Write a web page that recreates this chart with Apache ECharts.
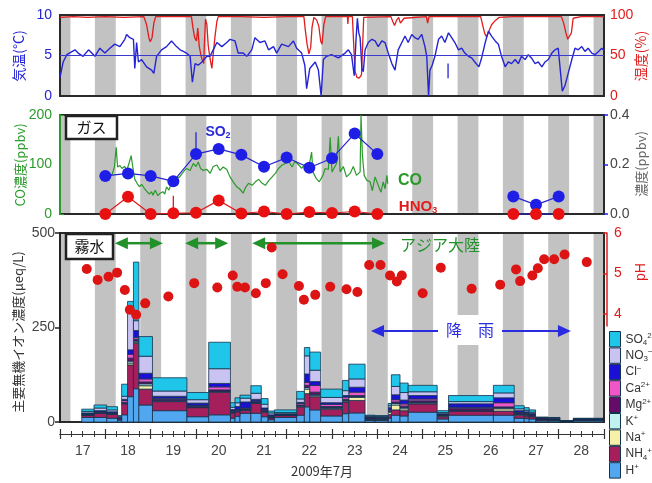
<!DOCTYPE html>
<html><head><meta charset="utf-8">
<script src="https://cdn.jsdelivr.net/npm/echarts@6/dist/echarts.min.js"></script>
<style>html,body{margin:0;padding:0;background:#fff}#c{width:652px;height:483px}</style>
</head><body><div id="c"></div>
<script>
const NUMF = 'Liberation Sans, "Noto Sans CJK JP", sans-serif';
const JPF = '"Noto Sans CJK JP", sans-serif';

const dayLabels = ['17','18','19','20','21','22','23','24','25','26','27','28'];
const nightStart = [16.77,17.77,18.77,19.77,20.77,21.77,22.77,23.77,24.77,25.77,26.77,27.77,28.77];
const nightEnd   = [17.23,18.23,19.23,20.23,21.23,22.23,23.23,24.23,25.23,26.23,27.23,28.23,29.23];

const tempData = [[17.00,2.3],[17.07,4.2],[17.15,5.1],[17.33,5.7],[17.40,5.3],[17.51,4.9],[17.63,5.7],[17.77,4.9],[17.88,5.9],[17.99,5.3],[18.10,5.9],[18.21,6.4],[18.32,6.1],[18.43,7.0],[18.47,7.6],[18.54,7.2],[18.62,7.0],[18.65,3.4],[18.69,6.6],[18.73,4.2],[18.80,4.5],[18.91,3.6],[19.02,3.2],[19.07,2.8],[19.13,4.9],[19.24,5.7],[19.35,6.1],[19.46,6.8],[19.57,6.1],[19.65,5.7],[19.72,5.5],[19.79,5.3],[19.87,4.9],[19.92,1.7],[19.98,4.0],[20.05,3.8],[20.13,4.2],[20.24,4.9],[20.31,4.9],[20.38,5.7],[20.46,6.6],[20.57,6.1],[20.68,6.6],[20.75,7.0],[20.86,6.8],[20.93,5.3],[21.04,5.3],[21.12,4.9],[21.23,5.7],[21.30,7.2],[21.41,6.6],[21.52,6.8],[21.60,5.7],[21.71,6.1],[21.78,5.3],[21.89,6.4],[22.04,6.1],[22.15,6.8],[22.22,5.9],[22.33,5.3],[22.40,3.8],[22.44,0.9],[22.51,3.4],[22.63,4.2],[22.70,3.2],[22.76,0.0],[22.81,4.5],[22.88,4.9],[22.99,5.1],[23.14,4.7],[23.29,5.3],[23.36,5.7],[23.43,5.1],[23.49,2.5],[23.53,7.0],[23.56,9.6],[23.59,7.8],[23.62,7.2],[23.66,3.4],[23.69,3.0],[23.73,5.7],[23.80,6.6],[23.88,7.0],[23.95,6.8],[24.02,6.1],[24.10,6.8],[24.17,6.6],[24.24,5.3],[24.32,4.0],[24.39,3.2],[24.46,5.7],[24.54,6.6],[24.61,7.4],[24.68,6.6],[24.76,7.6],[24.83,7.2],[24.90,7.0],[24.98,7.6],[25.05,6.1],[25.09,4.9],[25.13,0.0],[25.16,3.2],[25.21,3.8],[25.27,4.9],[25.35,7.0],[25.42,7.4],[25.49,6.6],[25.57,7.8],[25.64,7.2],[25.71,6.6],[25.79,5.7],[25.86,5.9],[25.93,5.3],[26.01,4.9],[26.08,4.7],[26.15,4.2],[26.24,3.6],[26.30,4.7],[26.38,6.6],[26.45,8.0],[26.52,7.4],[26.60,6.8],[26.67,6.4],[26.74,4.9],[26.82,3.6],[26.89,4.2],[26.96,4.0],[27.04,4.5],[27.11,4.0],[27.18,4.9],[27.26,4.5],[27.33,5.1],[27.40,4.7],[27.48,4.0],[27.55,4.2],[27.63,3.6],[27.70,4.2],[27.77,4.5],[27.85,5.3],[27.92,5.7],[27.99,5.9],[28.03,5.9],[28.08,0.6],[28.14,1.3],[28.21,2.8],[28.29,4.5],[28.36,5.9],[28.43,5.7],[28.51,6.1],[28.58,5.5],[28.65,5.9],[28.73,5.3],[28.80,5.1],[28.88,5.5],[28.95,5.9],[29.00,5.6]];
const tempSpikes = [[25.56,2.2,4.0]];

const humData = [[17.00,97],[17.30,98],[17.60,97],[18.00,98],[18.40,97],[18.85,98],[18.91,88],[18.96,72],[18.99,67],[19.03,72],[19.07,90],[19.11,98],[19.50,98],[19.90,98],[19.93,85],[19.97,72],[20.01,68],[20.04,84],[20.07,62],[20.11,50],[20.14,44],[20.17,40],[20.19,72],[20.21,95],[20.24,88],[20.27,62],[20.31,46],[20.35,34],[20.38,52],[20.42,74],[20.46,92],[20.49,98],[21.00,98],[21.50,97],[22.00,98],[22.38,98],[22.41,82],[22.45,64],[22.49,52],[22.53,60],[22.56,85],[22.60,97],[22.66,94],[22.71,86],[22.75,68],[22.78,64],[22.82,88],[22.86,98],[23.20,98],[23.34,98],[23.35,89],[23.36,98],[23.45,98],[23.48,62],[23.51,30],[23.55,23],[23.60,22],[23.65,26],[23.67,55],[23.70,97],[24.30,98],[24.34,92],[24.38,87],[24.42,93],[24.47,97],[24.51,90],[24.55,88],[24.59,96],[24.63,98],[25.08,98],[25.11,90],[25.14,98],[26.28,98],[26.33,86],[26.37,77],[26.41,73],[26.46,80],[26.52,88],[26.60,93],[26.68,97],[27.00,98],[27.50,98],[28.06,98],[28.11,90],[28.16,78],[28.20,70],[28.24,68],[28.28,78],[28.32,96],[28.50,98],[29.00,98]];

const coData = [[18.10,78],[18.15,80],[18.20,95],[18.24,135],[18.27,95],[18.32,98],[18.37,92],[18.42,96],[18.48,90],[18.53,105],[18.57,118],[18.61,92],[18.65,70],[18.70,62],[18.75,55],[18.80,60],[18.86,52],[18.92,45],[18.97,40],[19.02,45],[19.05,38],[19.10,48],[19.16,37],[19.21,42],[19.27,45],[19.31,40],[19.35,55],[19.40,48],[19.45,60],[19.50,65],[19.57,72],[19.64,75],[19.72,85],[19.79,92],[19.87,88],[19.94,102],[20.00,96],[20.05,105],[20.10,92],[20.16,88],[20.24,90],[20.31,82],[20.38,96],[20.46,99],[20.53,88],[20.60,95],[20.68,90],[20.75,75],[20.82,65],[20.90,55],[20.97,50],[21.04,42],[21.10,55],[21.16,62],[21.24,58],[21.31,65],[21.38,70],[21.46,62],[21.53,58],[21.60,67],[21.68,75],[21.75,82],[21.82,92],[21.90,99],[21.97,102],[22.05,105],[22.12,95],[22.18,106],[22.26,100],[22.33,92],[22.40,100],[22.50,100],[22.55,125],[22.58,85],[22.65,72],[22.72,65],[22.80,78],[22.85,92],[22.92,90],[22.96,155],[23.00,85],[23.10,102],[23.14,157],[23.18,85],[23.25,96],[23.32,75],[23.40,82],[23.47,96],[23.54,78],[23.62,85],[23.64,200],[23.67,120],[23.71,78],[23.77,68],[23.84,65],[23.89,47],[23.95,75],[24.02,58],[24.08,44],[24.13,65],[24.17,51],[24.21,78],[24.23,61]];

const so2DataA = [[18.0,0.154],[18.5,0.164],[19.0,0.154],[19.5,0.132],[20.0,0.242],[20.5,0.263],[21.0,0.239],[21.5,0.191],[22.0,0.228],[22.5,0.187],[23.0,0.225],[23.5,0.325],[24.0,0.242]];
const so2DataB = [[27.0,0.071],[27.5,0.037],[28.0,0.071]];
const so2Spikes = [[20.0,0.242,0.33]];
const hno3DataA = [[18.0,0],[18.5,0.07],[19.0,0],[19.5,0.003],[20.0,0.005],[20.5,0.055],[21.0,0.002],[21.5,0.01],[22.0,0],[22.5,0.008],[23.0,0.004],[23.5,0.01],[24.0,0]];
const hno3DataB = [[27.0,0],[27.5,0],[28.0,0]];
const hno3Spikes = [[19.5,0.003,0.074]];

const fogStart = [17.48,17.75,18.03,18.27,18.36,18.49,18.62,18.74,19.04,19.80,20.28,20.76,20.86,20.97,21.21,21.44,21.59,21.73,22.22,22.39,22.51,22.75,23.23,23.37,23.73,23.95,24.24,24.31,24.50,24.68,25.32,25.57,26.56,27.02,27.24,27.35,27.50,27.77,28.03,28.32];
const fogEnd   = [17.75,18.03,18.27,18.36,18.49,18.62,18.74,19.04,19.80,20.28,20.76,20.86,20.97,21.21,21.44,21.59,21.73,22.22,22.39,22.51,22.75,23.23,23.37,23.73,23.95,24.24,24.31,24.50,24.68,25.32,25.57,26.56,27.02,27.24,27.35,27.49,27.77,28.03,28.32,28.98];
const ionH   = [12,12,10,5,19,67,88,45,30,14,19,10,15,23,23,14,6,12,18,40,32,16,22,24,4,4,10,18,16,26,8,18,18,10,9,8,3,3,1,3];
const ionNH4 = [6,11,10,4,29,84,120,42,24,24,60,14,12,8,26,12,5,5,22,35,35,18,31,33,3,3,10,14,14,22,6,11,11,8,7,6,3,2,1,2];
const ionNa  = [0.5,0.5,0.5,0,1,5,3,9,1,0.5,1,1,1,1,1,1,0.5,0.5,2,12,3,2,2,8,0.5,0.5,6,13,5,2,2,1,6,2,2,1,0.5,0.5,0,0.5];
const ionK   = [0.5,0.5,0.5,0,1,5,3,5,1,0.5,1,1,1,1,1,1,0.5,0.5,1,4,3,2,2,2,0.5,0.5,2,4,3,2,1,1,2,1,1,1,0.5,0.5,0,0.5];
const ionMg  = [2,2,2,1,2,8,5,5,4,3,4,2,2,2,3,3,3,1,2,6,6,3,3,3,3,2,2,4,4,4,2,5,3,3,3,3,2,2,0.5,1];
const ionCa  = [1,1,1,1,5,10,5,8,3,2,8,2,2,2,2,2,1,1,4,8,18,6,6,9,1,1,3,6,6,5,1,3,11,2,2,1,0.5,0.5,0,0.5];
const ionCl  = [2,3,3,1,3,12,18,15,5,6,9,3,8,16,4,4,3,2,3,22,10,4,4,13,2,2,5,13,10,9,2,9,13,4,3,3,1.5,1.5,0.5,1];
const ionNO3 = [4,7,5,2,8,98,26,45,14,9,39,6,10,10,16,10,5,3,9,48,30,14,13,22,2,2,5,22,20,10,3,6,13,5,4,3,1,1,0.25,0.5];
const ionSO4 = [6,8,8.5,3,32,30,155,52,35,19,70,12,13,8,20,15,5,7,20,22,48,22,27,39,2,2,6,31,25,17,5,16,20,8,7,6,1,1,0.25,1];
const ionNames = ['H+','NH4+','Na+','K+','Mg2+','Ca2+','Cl-','NO3-','SO42-'];
const ionColors = ['#52a8f0','#a61f5d','#f6f0a8','#c0f2f0','#650b68','#f056c8','#1a10d6','#c9c3f2','#20c6ea'];

const phData = [[17.59,5.11],[17.83,4.84],[18.07,4.92],[18.26,5.02],[18.43,4.59],[18.54,4.10],[18.68,3.98],[18.88,4.26],[19.39,4.43],[19.96,4.76],[20.47,4.65],[20.81,4.95],[20.91,4.67],[21.08,4.65],[21.32,4.51],[21.54,4.76],[21.67,5.64],[21.91,4.98],[22.27,4.69],[22.38,4.35],[22.63,4.47],[22.96,4.67],[23.32,4.61],[23.56,4.54],[23.82,5.21],[24.07,5.21],[24.28,4.95],[24.43,4.80],[24.54,4.95],[25.00,4.51],[25.40,5.14],[26.08,4.62],[26.71,4.72],[27.06,5.10],[27.15,4.81],[27.42,4.95],[27.54,5.13],[27.68,5.35],[27.90,5.35],[28.13,5.47],[28.62,5.28]];

const asiaArrows = [[18.21,19.27,473],[19.76,20.71,473],[21.24,24.17,473]];
const rainArrows = [[23.86,28.27,241]];

// ---------- render helpers ----------
const nights = nightStart.map((s,i)=>[s,nightEnd[i],0]);
function stripeRender(params, api){
  const cs = params.coordSys;
  let x1 = api.coord([api.value(0),0])[0];
  let x2 = api.coord([api.value(1),0])[0];
  x1 = Math.max(x1, cs.x+1); x2 = Math.min(x2, cs.x+cs.width-1);
  if (x2 <= x1) return null;
  return {type:'rect', shape:{x:x1,y:cs.y+1,width:x2-x1,height:cs.height-2}, style:{fill:'#c2c2c2'}};
}
function spikeRender(color){
  return function(params, api){
    const a = api.coord([api.value(0), api.value(1)]);
    const b = api.coord([api.value(0), api.value(2)]);
    return {type:'line', shape:{x1:a[0],y1:a[1],x2:b[0],y2:b[1]}, style:{stroke:color, lineWidth:1.3}};
  };
}
function ionRender(params, api){
  const p1 = api.coord([api.value(0), api.value(3)]);
  const p2 = api.coord([api.value(1), api.value(2)]);
  return {type:'rect', shape:{x:p1[0],y:p1[1],width:p2[0]-p1[0],height:p2[1]-p1[1]},
    style:{fill:api.visual('color'), stroke:'#15324c', lineWidth:0.8}};
}
function arrowRender(color, lw){
  return function(params, api){
    const a = api.coord([api.value(0), api.value(2)]);
    const b = api.coord([api.value(1), api.value(2)]);
    const L = 13, W = 6, y = a[1];
    return {type:'group', children:[
      {type:'line', shape:{x1:a[0]+L-2,y1:y,x2:b[0]-L+2,y2:y}, style:{stroke:color,lineWidth:lw}},
      {type:'polygon', shape:{points:[[a[0],y],[a[0]+L,y-W],[a[0]+L,y+W]]}, style:{fill:color}},
      {type:'polygon', shape:{points:[[b[0],y],[b[0]-L,y-W],[b[0]-L,y+W]]}, style:{fill:color}}
    ]};
  };
}

const ionValues = [ionH,ionNH4,ionNa,ionK,ionMg,ionCa,ionCl,ionNO3,ionSO4];
const cum = fogStart.map(()=>0);
const ionSeries = ionValues.map((vals,k)=>{
  const data = fogStart.map((s,i)=>{ const b = cum[i]; cum[i] += vals[i]; return [s, fogEnd[i], b, cum[i]]; });
  return {type:'custom', name:ionNames[k], xAxisIndex:2, yAxisIndex:4, z:3,
    itemStyle:{color:ionColors[k]}, encode:{x:[0,1], y:[2,3]}, data, renderItem:ionRender};
});

const legendLabels = {
  'SO42-':'{n|SO}{b|4}{t|2−}', 'NO3-':'{n|NO}{b|3}{t|−}', 'Cl-':'{n|Cl}{t|−}', 'Ca2+':'{n|Ca}{t|2+}',
  'Mg2+':'{n|Mg}{t|2+}', 'K+':'{n|K}{t|+}', 'Na+':'{n|Na}{t|+}', 'NH4+':'{n|NH}{b|4}{t|+}', 'H+':'{n|H}{t|+}'
};

const BLUE = '#2424d4', RED = '#e01c1c', GREEN = '#2a9a2a', GRAY = '#444';
const hidX = (g)=>({gridIndex:g, type:'value', min:17, max:29, show:false});
const baseGrid = {left:60, right:48, show:true, borderColor:'#2a2a2a', borderWidth:2, backgroundColor:'#fff'};

const option = {
  animation:false,
  textStyle:{fontFamily:NUMF},
  grid:[
    Object.assign({top:15, height:81}, baseGrid),
    Object.assign({top:115, height:99}, baseGrid),
    Object.assign({top:233, height:189}, baseGrid),
    {left:60, right:48, top:233, height:93, show:false}
  ],
  xAxis:[
    hidX(0), hidX(1),
    {gridIndex:2, type:'value', min:17, max:29, interval:1, position:'bottom', offset:12,
      axisLine:{show:true,onZero:false,lineStyle:{color:'#333',width:1.2}},
      axisTick:{show:true,inside:false,length:5,lineStyle:{color:'#333',width:1.2}},
      minorTick:{show:true,splitNumber:4,length:3,lineStyle:{color:'#333',width:1}},
      axisLabel:{show:false}, splitLine:{show:false}},
    {gridIndex:2, type:'value', min:17, max:29, interval:1, position:'bottom', offset:12,
      axisLine:{show:true,onZero:false,lineStyle:{color:'#333',width:1.2}},
      axisTick:{show:true,inside:true,length:5,lineStyle:{color:'#333',width:1.2}},
      minorTick:{show:true,splitNumber:4,length:3,lineStyle:{color:'#333',width:1}},
      axisLabel:{show:false}, splitLine:{show:false}},
    {gridIndex:2, type:'value', min:17, max:29, interval:0.5, position:'bottom', offset:12,
      axisLine:{show:false,onZero:false}, axisTick:{show:false}, splitLine:{show:false},
      axisLabel:{fontSize:14, color:GRAY, margin:10, fontFamily:NUMF,
        formatter:(v)=>{ const f = v - Math.floor(v); return (Math.abs(f-0.5)<0.01) ? (dayLabels[Math.floor(v)-17]||'') : ''; }}},
    hidX(3)
  ],
  yAxis:[
    {gridIndex:0, type:'value', min:0, max:10, interval:5, position:'left',
      axisLine:{show:false}, axisTick:{show:false}, splitLine:{show:false},
      axisLabel:{color:BLUE, fontSize:14, margin:8}},
    {gridIndex:0, type:'value', min:0, max:100, interval:50, position:'right',
      axisLine:{show:false}, axisTick:{show:false}, splitLine:{show:false},
      axisLabel:{color:RED, fontSize:14, margin:6}},
    {gridIndex:1, type:'value', min:0, max:200, interval:100, position:'left',
      axisLine:{show:true, lineStyle:{color:GREEN, width:2}}, axisTick:{show:true, inside:true, length:4, lineStyle:{color:GREEN}},
      splitLine:{show:false}, axisLabel:{color:GREEN, fontSize:14, margin:8}},
    {gridIndex:1, type:'value', min:0, max:0.4, interval:0.2, position:'right',
      axisLine:{show:false}, axisTick:{show:true, inside:false, length:4, lineStyle:{color:BLUE, width:1.5}},
      splitLine:{show:false}, axisLabel:{color:GRAY, fontSize:14, margin:6, formatter:(v)=>v.toFixed(1)}},
    {gridIndex:2, type:'value', min:0, max:500, interval:250, position:'left',
      axisLine:{show:true, lineStyle:{color:'#222', width:2}}, axisTick:{show:true, inside:false, length:5, lineStyle:{color:'#222', width:1.5}},
      splitLine:{show:false}, axisLabel:{color:GRAY, fontSize:14, margin:5}},
    {gridIndex:3, type:'value', min:3.7, max:6, position:'right', offset:3,
      axisLine:{show:true, lineStyle:{color:RED, width:1.5}},
      axisTick:{show:true, inside:true, length:4, customValues:[4,5,6], lineStyle:{color:RED, width:1.5}},
      splitLine:{show:false}, axisLabel:{color:RED, fontSize:14, margin:7, customValues:[4,5,6]}}
  ],
  legend:{
    data: ionNames.slice().reverse(), orient:'vertical', left:609, top:331, padding:0,
    itemWidth:11, itemHeight:15.4, itemGap:0, icon:'rect', selectedMode:false,
    itemStyle:{borderColor:'#15324c', borderWidth:1},
    formatter:(n)=>legendLabels[n]||n,
    textStyle:{color:'#333', fontSize:12, lineHeight:15, fontFamily:NUMF,
      rich:{n:{fontSize:12, lineHeight:15, color:'#333'},
            b:{fontSize:8, lineHeight:9, verticalAlign:'bottom', color:'#333'},
            t:{fontSize:8, lineHeight:9, verticalAlign:'top', color:'#333'}}}
  },
  series:[
    {type:'custom', xAxisIndex:0, yAxisIndex:0, z:1, silent:true, data:nights, encode:{x:[0,1], y:2}, renderItem:stripeRender},
    {type:'custom', xAxisIndex:1, yAxisIndex:2, z:1, silent:true, data:nights, encode:{x:[0,1], y:2}, renderItem:stripeRender},
    {type:'custom', xAxisIndex:2, yAxisIndex:4, z:1, silent:true, data:nights, encode:{x:[0,1], y:2}, renderItem:stripeRender},
    {type:'line', name:'temp', xAxisIndex:0, yAxisIndex:0, data:tempData, showSymbol:false, z:3,
      lineStyle:{color:BLUE, width:1.4}, itemStyle:{color:BLUE},
      markLine:{silent:true, symbol:'none', label:{show:false}, lineStyle:{color:'#3a3ad0', width:1, type:'solid'}, data:[{yAxis:5}]}},
    {type:'line', name:'hum', xAxisIndex:0, yAxisIndex:1, data:humData, showSymbol:false, z:2,
      lineStyle:{color:RED, width:1.3}, itemStyle:{color:RED}},
    {type:'custom', xAxisIndex:0, yAxisIndex:0, z:3, data:tempSpikes, encode:{x:0, y:[1,2]}, renderItem:spikeRender(BLUE)},
    {type:'line', name:'CO', xAxisIndex:1, yAxisIndex:2, data:coData, showSymbol:false, z:2,
      lineStyle:{color:GREEN, width:1.2}, itemStyle:{color:GREEN}},
    {type:'custom', xAxisIndex:1, yAxisIndex:3, z:3, data:so2Spikes, encode:{x:0, y:[1,2]}, renderItem:spikeRender(BLUE)},
    {type:'custom', xAxisIndex:1, yAxisIndex:3, z:3, data:hno3Spikes, encode:{x:0, y:[1,2]}, renderItem:spikeRender(RED)},
    {type:'line', xAxisIndex:1, yAxisIndex:3, data:so2DataA, symbol:'circle', symbolSize:12, clip:false, z:4,
      lineStyle:{color:BLUE, width:1.2}, itemStyle:{color:'#1e1ee6', opacity:1}},
    {type:'line', xAxisIndex:1, yAxisIndex:3, data:so2DataB, symbol:'circle', symbolSize:12, clip:false, z:4,
      lineStyle:{color:BLUE, width:1.2}, itemStyle:{color:'#1e1ee6', opacity:1}},
    {type:'line', xAxisIndex:1, yAxisIndex:3, data:hno3DataA, symbol:'circle', symbolSize:12, clip:false, z:4,
      lineStyle:{color:RED, width:1.2}, itemStyle:{color:'#e81010', opacity:1}},
    {type:'line', xAxisIndex:1, yAxisIndex:3, data:hno3DataB, symbol:'circle', symbolSize:12, clip:false, z:4,
      lineStyle:{color:BLUE, width:1.2}, itemStyle:{color:'#e81010', opacity:1}},
    ...ionSeries,
    {type:'scatter', xAxisIndex:5, yAxisIndex:5, data:phData, symbolSize:10, z:5, itemStyle:{color:'#dd1414', opacity:1}},
    {type:'custom', xAxisIndex:2, yAxisIndex:4, z:5, data:asiaArrows, encode:{x:[0,1], y:2}, renderItem:arrowRender('#23912a', 2.5)},
    {type:'custom', xAxisIndex:2, yAxisIndex:4, z:5, data:rainArrows, encode:{x:[0,1], y:2}, renderItem:arrowRender('#2a2ae0', 2)}
  ],
  graphic:[
    {type:'rect', z:100, shape:{x:66,y:116,width:51,height:23}, style:{fill:'#fff', stroke:'#222', lineWidth:2.5}},
    {type:'text', z:101, x:91.5, y:127.5, style:{text:'ガス', fontSize:15, fontFamily:JPF, fill:'#111', textAlign:'center', textVerticalAlign:'middle'}},
    {type:'rect', z:100, shape:{x:66,y:234,width:47,height:25}, style:{fill:'#fff', stroke:'#222', lineWidth:2.5}},
    {type:'text', z:101, x:89.5, y:246.5, style:{text:'霧水', fontSize:15, fontFamily:JPF, fill:'#111', textAlign:'center', textVerticalAlign:'middle'}},
    {type:'text', z:101, x:218, y:132, style:{text:'{a|SO}{b|2}', textAlign:'center', textVerticalAlign:'middle', fill:'#2a2ad8',
      rich:{a:{fontSize:14, fontWeight:'bold', fill:'#2a2ad8', fontFamily:NUMF, lineHeight:16},
            b:{fontSize:9, fontWeight:'bold', fill:'#2a2ad8', fontFamily:NUMF, verticalAlign:'bottom', lineHeight:10}}}},
    {type:'text', z:101, x:410, y:181, style:{text:'CO', fontSize:16, fontWeight:'bold', fontFamily:NUMF, fill:GREEN, textAlign:'center', textVerticalAlign:'middle'}},
    {type:'text', z:101, x:418, y:207, style:{text:'{a|HNO}{b|3}', textAlign:'center', textVerticalAlign:'middle', fill:RED,
      rich:{a:{fontSize:15, fontWeight:'bold', fill:RED, fontFamily:NUMF, lineHeight:17},
            b:{fontSize:9, fontWeight:'bold', fill:RED, fontFamily:NUMF, verticalAlign:'bottom', lineHeight:10}}}},
    {type:'text', z:101, x:440, y:245, style:{text:'アジア大陸', fontSize:16, fontFamily:JPF, fill:'#23912a', textAlign:'center', textVerticalAlign:'middle'}},
    {type:'text', z:101, x:470, y:330, style:{text:'降　雨', fontSize:16, fontFamily:JPF, fill:'#2a2ae0', textAlign:'center', textVerticalAlign:'middle',
      backgroundColor:'#fff', padding:[7,8]}},
    {type:'text', z:101, x:19, y:56, rotation:Math.PI/2, style:{text:'気温(°C)', fontSize:14, fontFamily:JPF, fill:BLUE, textAlign:'center', textVerticalAlign:'middle'}},
    {type:'text', z:101, x:641, y:56, rotation:Math.PI/2, style:{text:'湿度(%)', fontSize:14, fontFamily:JPF, fill:RED, textAlign:'center', textVerticalAlign:'middle'}},
    {type:'text', z:101, x:20, y:165, rotation:Math.PI/2, style:{text:'CO濃度(ppbv)', fontSize:13, fontFamily:JPF, fill:GREEN, textAlign:'center', textVerticalAlign:'middle'}},
    {type:'text', z:101, x:641, y:164, rotation:Math.PI/2, style:{text:'濃度(ppbv)', fontSize:13, fontFamily:JPF, fill:'#666', textAlign:'center', textVerticalAlign:'middle'}},
    {type:'text', z:101, x:18, y:332, rotation:Math.PI/2, style:{text:'主要無機イオン濃度(μeq/L)', fontSize:13, fontFamily:JPF, fill:'#333', textAlign:'center', textVerticalAlign:'middle'}},
    {type:'text', z:101, x:641, y:272, rotation:Math.PI/2, style:{text:'pH', fontSize:14, fontFamily:NUMF, fill:RED, textAlign:'center', textVerticalAlign:'middle'}},
    {type:'text', z:101, x:322, y:471, style:{text:'2009年7月', fontSize:13, fontFamily:JPF, fill:'#333', textAlign:'center', textVerticalAlign:'middle'}}
  ]
};

const chart = echarts.init(document.getElementById('c'), null, {renderer:'canvas'});
chart.setOption(option);
</script></body></html>
